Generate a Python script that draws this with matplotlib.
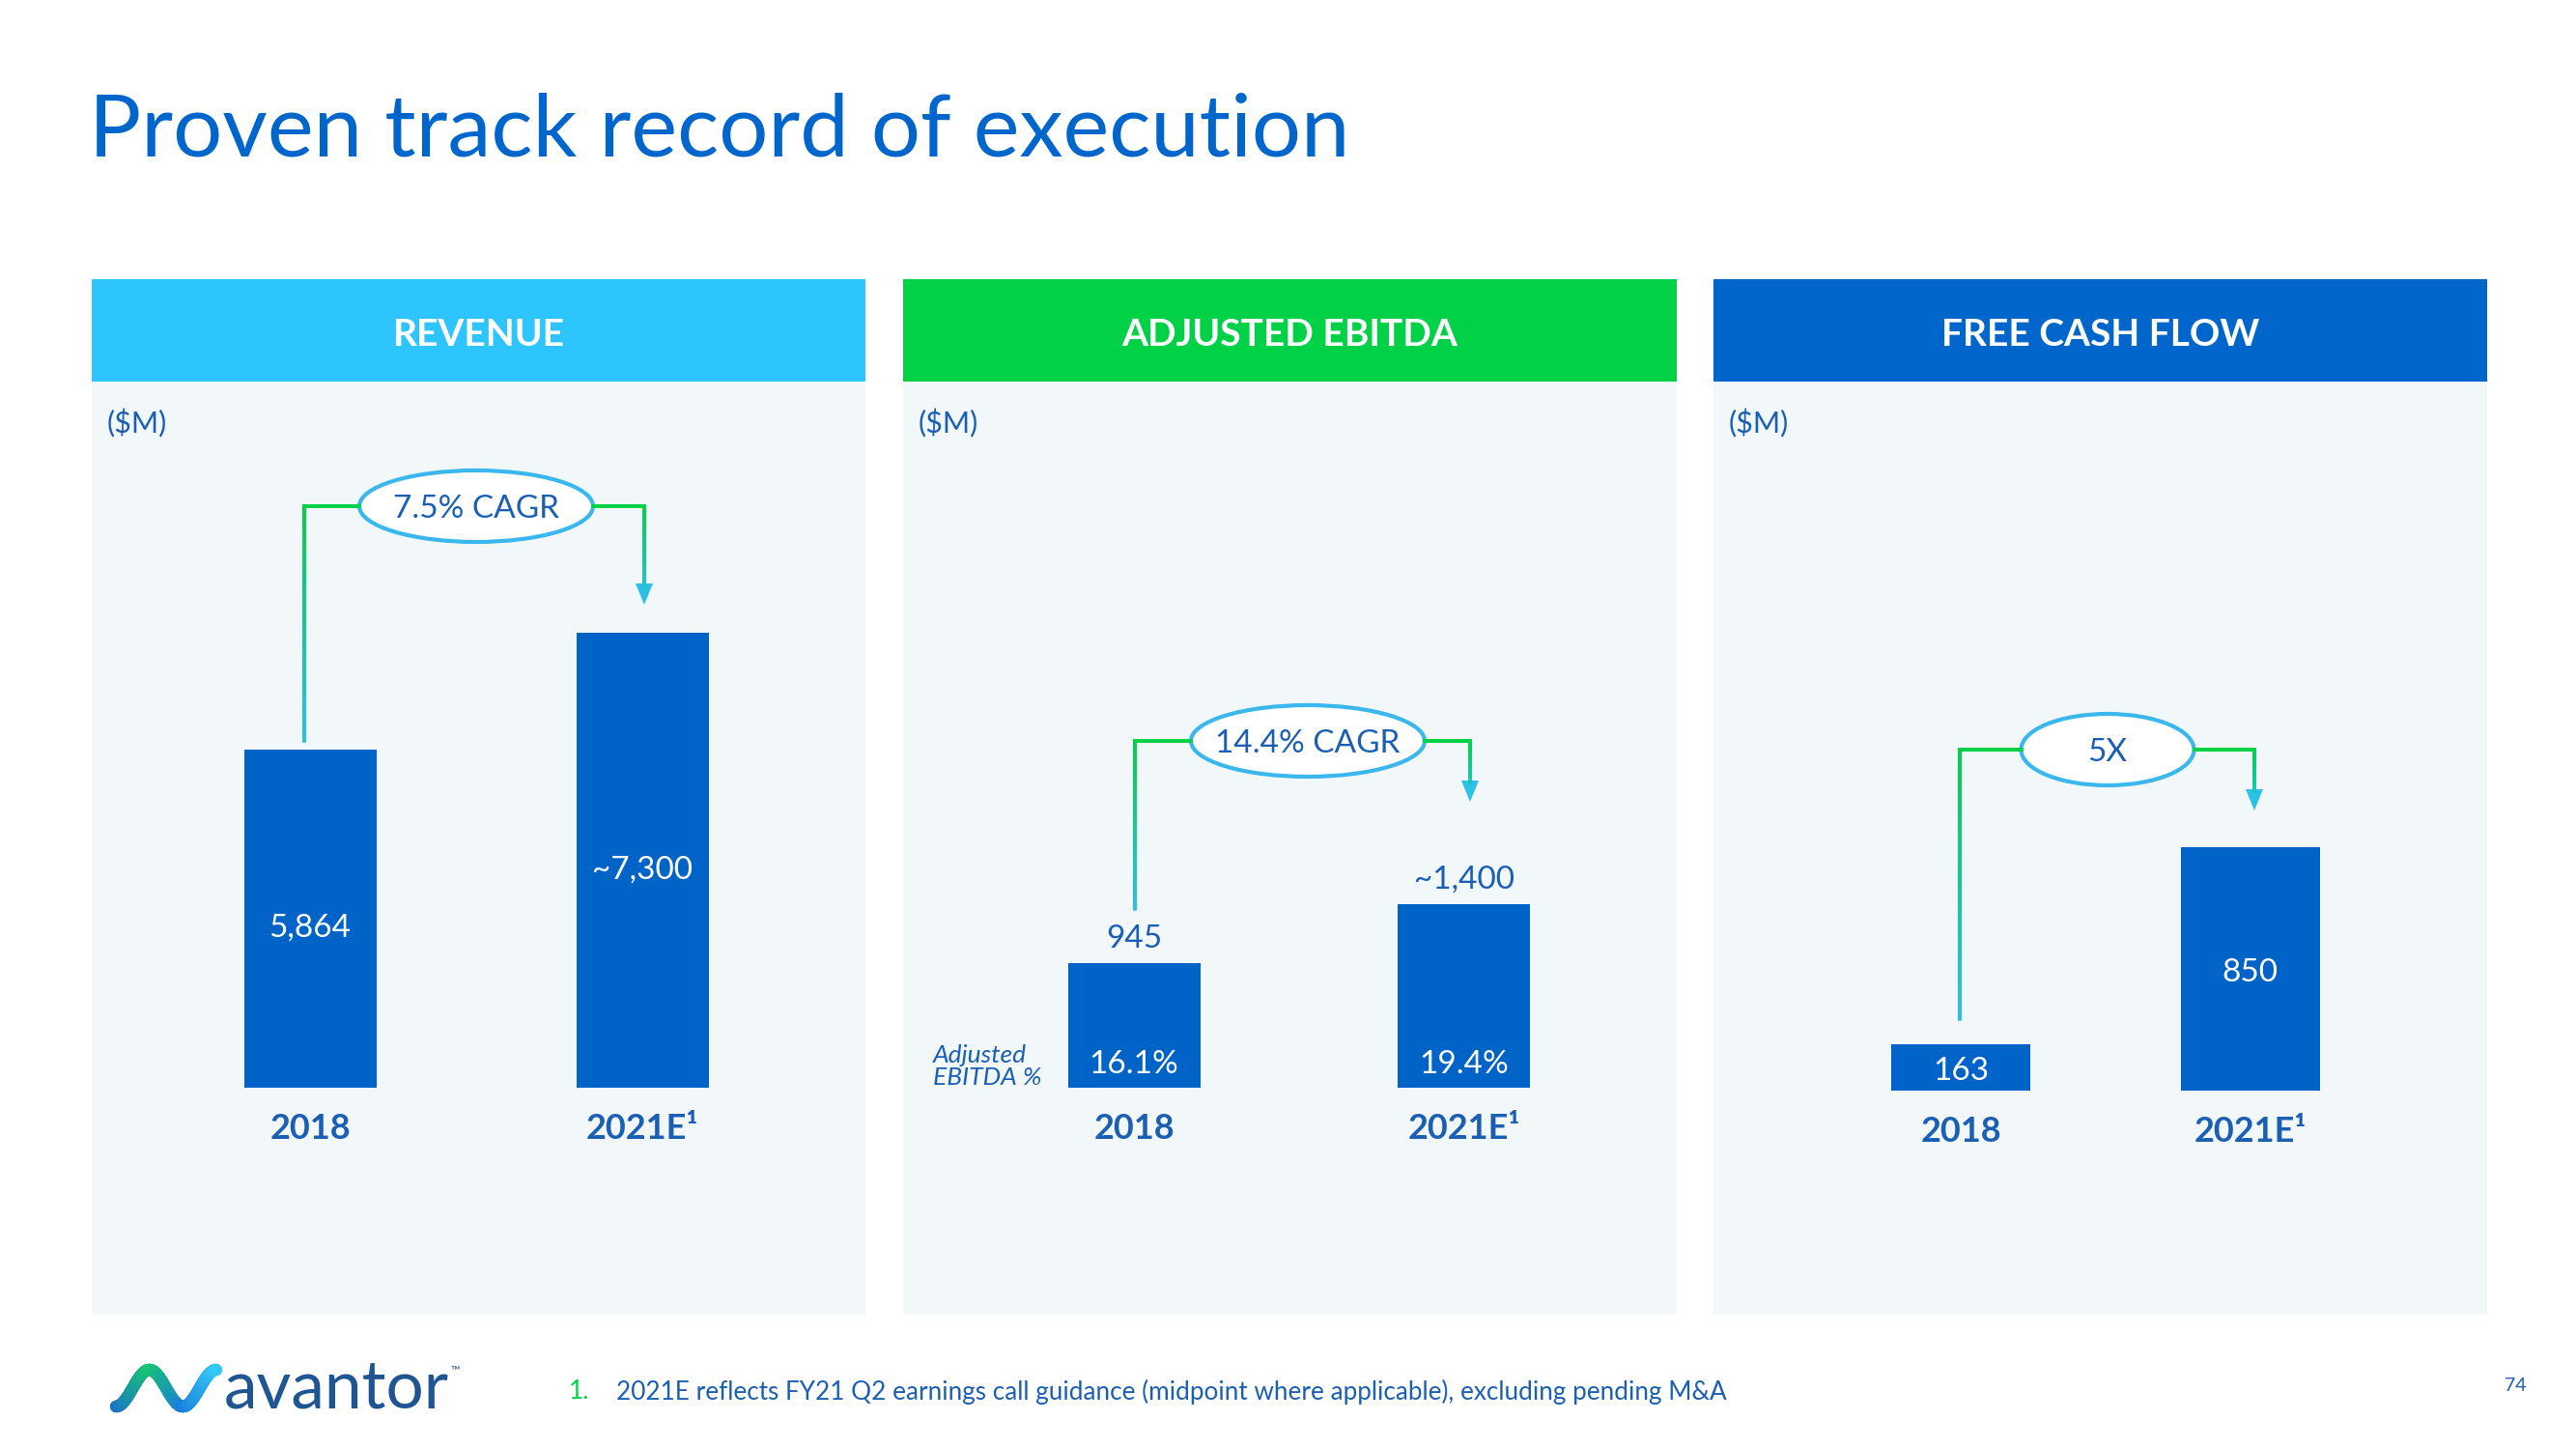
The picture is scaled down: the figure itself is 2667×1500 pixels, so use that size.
import matplotlib
matplotlib.use("Agg")
import matplotlib.pyplot as plt
import numpy as np
from matplotlib.patches import Rectangle, Ellipse, Polygon
from matplotlib.collections import LineCollection
from matplotlib.colors import to_rgb

plt.rcParams['font.family'] = ['Lato', 'DejaVu Sans']

# 데이터
categories = ['2018', '2021E¹']
revenue = [5864, 7300]
revenue_labels = ['5,864', '~7,300']
ebitda = [945, 1400]
ebitda_labels = ['945', '~1,400']
ebitda_margin = ['16.1%', '19.4%']
fcf = [163, 850]
fcf_labels = ['163', '850']
growth_labels = ['7.5% CAGR', '14.4% CAGR', '5X']
panel_titles = ['REVENUE', 'ADJUSTED EBITDA', 'FREE CASH FLOW']

# 색
BLUE = '#0063c8'
SKY = '#2ec5fe'
GREEN = '#00d146'
CYAN = '#2bc0e6'
PANEL_BG = '#f2f7fa'
TEXT_BLUE = '#1a5fb4'
TITLE_BLUE = '#0066cc'
LOGO_BLUE = '#1f5592'
header_colors = [SKY, GREEN, '#0066cc']

W, H = 2667, 1500
fig = plt.figure(figsize=(W / 100, H / 100), dpi=100)
fig.patch.set_facecolor('white')

# 배경용 축 (픽셀 좌표)
bg = fig.add_axes([0, 0, 1, 1])
bg.set_xlim(0, W)
bg.set_ylim(H, 0)
bg.axis('off')

bg.text(92, 162, 'Proven track record of execution', fontsize=65, fontweight='normal',
        color=TITLE_BLUE, va='baseline', ha='left')

panel_x = [95, 935, 1774]
panel_w = 801
for i, x0 in enumerate(panel_x):
    bg.add_patch(Rectangle((x0, 395), panel_w, 1361 - 395, color=PANEL_BG, lw=0))
    bg.add_patch(Rectangle((x0, 289), panel_w, 106, color=header_colors[i], lw=0))
    bg.text(x0 + panel_w / 2, 346, panel_titles[i], color='white', fontsize=28,
            fontweight='bold', ha='center', va='center')
    bg.text(x0 + 16, 438, '($M)', color=TEXT_BLUE, fontsize=22, ha='left', va='center')


def mix(c0, c1, f):
    a, b = np.array(to_rgb(c0)), np.array(to_rgb(c1))
    return a + (b - a) * f


def grad_path(xs, ys, y_top, y_bot, lw=2.6):
    pts = np.array(list(zip(xs, ys)), float)
    seg = np.hypot(*np.diff(pts, axis=0).T)
    cum = np.concatenate([[0], np.cumsum(seg)])
    t = np.union1d(np.linspace(0, cum[-1], 300), cum)
    x = np.interp(t, cum, pts[:, 0])
    y = np.interp(t, cum, pts[:, 1])
    p = np.column_stack([x, y])
    segs = np.stack([p[:-1], p[1:]], axis=1)
    ym = (y[:-1] + y[1:]) / 2
    f = np.clip((ym - y_top) / (y_bot - y_top), 0, 1)
    cols = [mix(GREEN, CYAN, v) for v in f]
    bg.add_collection(LineCollection(segs, colors=cols, linewidths=lw, capstyle='projecting'))


# 성장 표시 (연결선 + 타원)
connectors = [
    # x_left, y_left_bottom, y_line, ell_cx, ell_w, x_right, y_tip
    (315, 767, 524, 493, 242, 667, 626),
    (1175, 941, 767, 1354, 242, 1522, 830),
    (2029, 1055, 776, 2182, 179, 2334, 839),
]
for (xl, yb, yl, cx, ew, xr, tip), lab in zip(connectors, growth_labels):
    grad_path([xl, xl, cx - ew / 2], [yb, yl, yl], yl, yb)
    grad_path([cx + ew / 2, xr, xr], [yl, yl, tip - 20], yl, tip)
    bg.add_patch(Polygon([(xr - 9, tip - 22), (xr + 9, tip - 22), (xr, tip)], color=CYAN, lw=0))
    bg.add_patch(Ellipse((cx, yl), ew, 74, facecolor='white', edgecolor='#3ab7ec', lw=3))
    bg.text(cx, yl + 3, lab, color=TEXT_BLUE, fontsize=24, ha='center', va='center')

bg.text(966, 1104, 'Adjusted\nEBITDA %', color=TEXT_BLUE, fontsize=19, style='italic',
        ha='left', va='center', linespacing=1.0)


# 막대 그래프 축
def bar_panel(x0, y_base, centers, bw, ylim, values):
    unit = centers[1] - centers[0]
    top_px = 470
    ax = fig.add_axes([x0 / W, 1 - y_base / H, panel_w / W, (y_base - top_px) / H])
    ax.set_xlim((x0 - centers[0]) / unit, (x0 + panel_w - centers[0]) / unit)
    ax.set_ylim(*ylim)
    ax.bar([0, 1], values, width=bw / unit, color=BLUE)
    ax.set_xticks([0, 1], categories, fontweight='bold', fontsize=26, color=TEXT_BLUE)
    ax.tick_params(axis='x', length=0, pad=19)
    ax.set_yticks([])
    for s in ax.spines.values():
        s.set_visible(False)
    ax.patch.set_visible(False)
    return ax


ax1 = bar_panel(panel_x[0], 1126, [321, 665], 137, (1710, 9496), revenue)
for i, v in enumerate(revenue):
    ax1.annotate(revenue_labels[i], (i, (1710 + v) / 2), xytext=(0, -7), textcoords='offset points',
                 color='white', fontsize=24, ha='center', va='center')

ax2 = bar_panel(panel_x[1], 1126, [1174, 1515.5], 137, (0, 4824), ebitda)
for i, v in enumerate(ebitda):
    ax2.annotate(ebitda_labels[i], (i, v), xytext=(0, 18), textcoords='offset points',
                 color=TEXT_BLUE, fontsize=24, ha='center', va='center')
    ax2.annotate(ebitda_margin[i], (i, 0), xytext=(0, 17.5), textcoords='offset points',
                 color='white', fontsize=24, ha='center', va='center')

ax3 = bar_panel(panel_x[2], 1129, [2030, 2329.5], 144, (0, 2226), fcf)
for i, v in enumerate(fcf):
    ax3.annotate(fcf_labels[i], (i, v / 2), xytext=(0, -3), textcoords='offset points',
                 color='white', fontsize=24, ha='center', va='center')

# 로고
t = np.linspace(0, 1, 240)
theta = -np.pi / 2 + 3 * np.pi * t
lx = 120 + 104 * t
ly = 1437 - 19 * np.sin(theta)
pts = np.column_stack([lx, ly])
segs = np.stack([pts[:-1], pts[1:]], axis=1)
logo_cols = [mix('#1a6fd0', '#17c76f', v / 0.34) if v < 0.34 else
             mix('#17c76f', '#1a7fdc', (v - 0.34) / 0.33) if v < 0.67 else
             mix('#1a7fdc', '#33c8f8', (v - 0.67) / 0.33) for v in t[:-1]]
bg.add_collection(LineCollection(segs, colors=logo_cols, linewidths=9, capstyle='round'))
bg.text(232, 1457, 'avantor', color=LOGO_BLUE, fontsize=50, fontweight='normal',
        ha='left', va='baseline')
bg.text(466, 1418, '™', color=LOGO_BLUE, fontsize=9, ha='left', va='center')

# 각주
bg.text(589, 1441, '1.', color=GREEN, fontsize=18.8, ha='left', va='center')
bg.text(638, 1441, '2021E reflects FY21 Q2 earnings call guidance (midpoint where applicable), '
        'excluding pending M&A', color=TEXT_BLUE, fontsize=18.8, ha='left', va='center')
bg.text(2604, 1434, '74', color=TEXT_BLUE, fontsize=14, ha='center', va='center')

fig.savefig('out.png', dpi=100)
